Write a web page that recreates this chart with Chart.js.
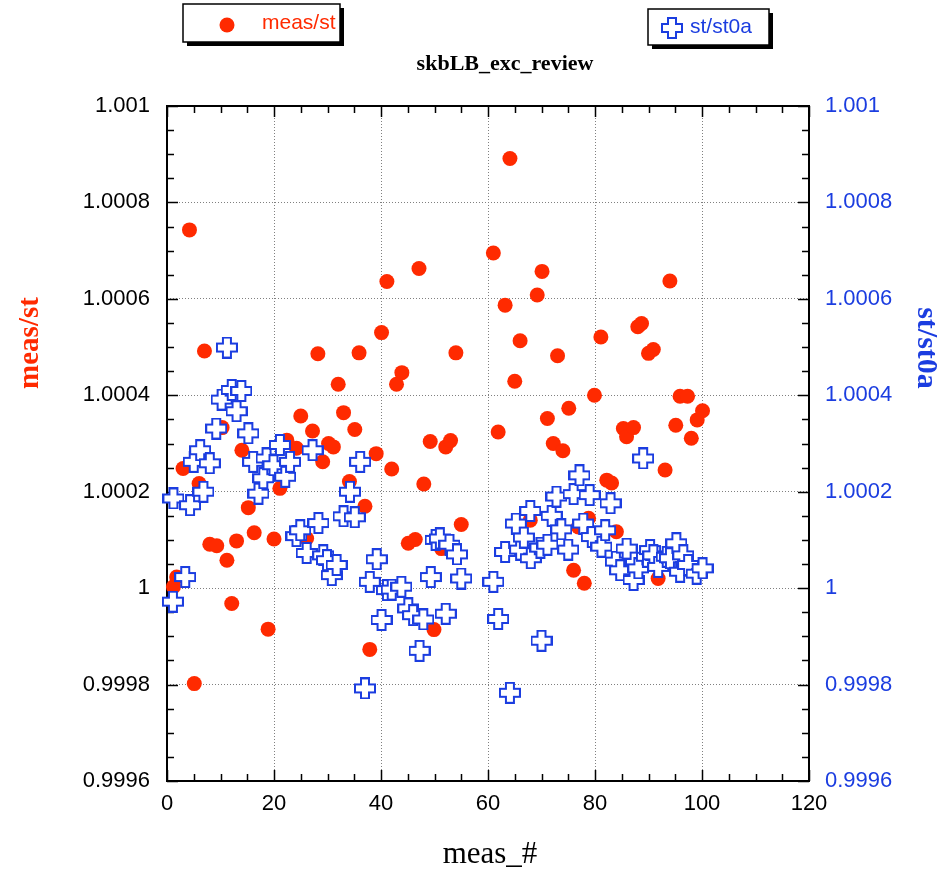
<!DOCTYPE html>
<html>
<head>
<meta charset="utf-8">
<script src="https://cdn.jsdelivr.net/npm/chart.js@4.4.1/dist/chart.umd.min.js"></script>
<style>
  html, body { margin: 0; padding: 0; background: #fff; }
</style>
</head>
<body>
<canvas id="chart" width="947" height="870"></canvas>
<script>
// meas/st (red dots)
const measX = [1.2, 1.8, 3.0, 4.2, 5.1, 6.0, 7.0, 8.0, 9.3, 10.3, 11.2, 12.1, 13.0, 14.0, 15.2, 16.3,
  18.9, 20.0, 21.1, 22.4, 24.2, 25.0, 26.1, 27.2, 28.2, 29.1, 30.2, 31.1, 32.0, 33.0, 34.1, 35.1,
  35.9, 37.0, 37.9, 39.1, 40.1, 41.1, 42.0, 42.9, 43.9, 45.1, 46.4, 47.1, 48.0, 49.2, 49.9, 51.3,
  52.1, 53.0, 54.0, 55.0, 61.0, 61.9, 63.2, 64.1, 65.0, 66.0, 67.0, 67.9, 69.2, 70.1, 71.1, 72.2,
  73.0, 74.0, 75.1, 76.0, 76.9, 78.0, 78.8, 79.9, 81.1, 82.2, 83.1, 84.0, 85.3, 85.9, 87.2, 88.0,
  88.7, 90.0, 90.9, 91.8, 93.1, 94.0, 95.1, 95.9, 97.3, 98.0, 99.1, 100.1];
const measY = [1.000003, 1.000023, 1.000248, 1.000743, 0.999802, 1.000217, 1.000492, 1.000091, 1.000088, 1.000333, 1.000058, 0.999968, 1.000098, 1.000286, 1.000167, 1.000115,
  0.999915, 1.000102, 1.000207, 1.000307, 1.000290, 1.000357, 1.000103, 1.000326, 1.000486, 1.000262, 1.000300, 1.000293, 1.000423, 1.000364, 1.000221, 1.000329,
  1.000488, 1.000170, 0.999873, 1.000279, 1.000530, 1.000636, 1.000247, 1.000423, 1.000447, 1.000093, 1.000101, 1.000663, 1.000216, 1.000304, 0.999914, 1.000082,
  1.000293, 1.000306, 1.000488, 1.000132, 1.000695, 1.000324, 1.000587, 1.000891, 1.000429, 1.000513, 1.000068, 1.000141, 1.000608, 1.000657, 1.000352, 1.000300,
  1.000482, 1.000285, 1.000373, 1.000037, 1.000127, 1.000010, 1.000145, 1.000400, 1.000521, 1.000224, 1.000218, 1.000117, 1.000331, 1.000314, 1.000333, 1.000542,
  1.000549, 1.000487, 1.000495, 1.000020, 1.000245, 1.000637, 1.000338, 1.000398, 1.000398, 1.000311, 1.000349, 1.000368];

// st/st0a (blue crosses)
const st0aX = [1.1, 1.2, 3.4, 4.3, 5.0, 6.2, 6.8, 8.0, 9.2, 10.2, 11.2, 12.1, 13.0, 13.9, 15.2, 16.1,
  17.1, 18.0, 18.6, 19.9, 21.1, 22.1, 23.0, 24.2, 24.9, 26.1, 27.2, 28.3, 29.2, 29.9, 30.8, 31.7,
  33.0, 34.2, 35.1, 36.1, 37.0, 37.9, 39.2, 40.1, 41.1, 42.0, 43.8, 45.1, 46.0, 47.2, 47.9, 49.3,
  50.2, 51.0, 52.1, 52.8, 54.2, 55.0, 61.0, 61.9, 63.2, 64.1, 65.2, 66.0, 66.7, 67.9, 68.0, 69.8,
  70.0, 71.1, 71.9, 72.8, 73.7, 75.0, 76.0, 77.1, 77.8, 79.0, 79.4, 81.2, 81.9, 82.9, 83.9, 84.7,
  85.9, 87.2, 88.1, 89.0, 89.7, 90.3, 90.9, 91.8, 93.4, 94.0, 95.2, 95.9, 96.5, 97.4, 99.0, 100.1];
const st0aY = [0.999972, 1.000186, 1.000023, 1.000172, 1.000262, 1.000286, 1.000200, 1.000259, 1.000331, 1.000391, 1.000499, 1.000411, 1.000367, 1.000409, 1.000321, 1.000262,
  1.000196, 1.000228, 1.000269, 1.000255, 1.000297, 1.000231, 1.000262, 1.000108, 1.000120, 1.000073, 1.000286, 1.000135, 1.000068, 1.000058, 1.000027, 1.000048,
  1.000149, 1.000200, 1.000147, 1.000262, 0.999792, 1.000013, 1.000060, 0.999934, 0.999996, 0.999997, 1.000003, 0.999958, 0.999944, 0.999870, 0.999935, 1.000023,
  1.000100, 1.000103, 0.999947, 1.000090, 1.000070, 1.000020, 1.000013, 0.999936, 1.000075, 0.999783, 1.000134, 1.000080, 1.000105, 1.000160, 1.000062, 1.000084,
  0.999891, 1.000090, 1.000150, 1.000190, 1.000122, 1.000080, 1.000195, 1.000234, 1.000134, 1.000193, 1.000106, 1.000086, 1.000120, 1.000176, 1.000055, 1.000037,
  1.000082, 1.000017, 1.000041, 1.000269, 1.000065, 1.000079, 1.000068, 1.000044, 1.000065, 1.000062, 1.000093, 1.000034, 1.000068, 1.000048, 1.000030, 1.000041];

const xTicks = [0, 20, 40, 60, 80, 100, 120];
const yTicks = [0.9996, 0.9998, 1, 1.0002, 1.0004, 1.0006, 1.0008, 1.001];

const RED = '#ff2a00';
const BLUE = '#1b3de0';

// outlined plus marker
function plusMarker(size, arm, color) {
  const c = document.createElement('canvas');
  c.width = size; c.height = size;
  const g = c.getContext('2d');
  const a = (size - arm) / 2, b = a + arm, lo = 1, hi = size - 1;
  g.beginPath();
  g.moveTo(a, lo); g.lineTo(b, lo); g.lineTo(b, a); g.lineTo(hi, a); g.lineTo(hi, b); g.lineTo(b, b);
  g.lineTo(b, hi); g.lineTo(a, hi); g.lineTo(a, b); g.lineTo(lo, b); g.lineTo(lo, a); g.lineTo(a, a);
  g.closePath();
  g.fillStyle = '#fff';
  g.fill();
  g.lineWidth = 2;
  g.strokeStyle = color;
  g.stroke();
  return c;
}
const plus = plusMarker(22, 8, BLUE);

const fmt = v => String(Number(Number(v).toFixed(4)));

// frame with inward ticks on all four sides
const framePlugin = {
  id: 'frame',
  beforeDatasetsDraw(chart) {
    const { ctx, chartArea: a, scales } = chart;
    const x = scales.x, y = scales.y;
    ctx.save();
    ctx.strokeStyle = '#000';
    ctx.lineWidth = 1.5;
    ctx.beginPath();
    for (let v = 0; v <= 120; v += 5) {
      const px = Math.round(x.getPixelForValue(v)) + 0.5;
      const len = v % 20 === 0 ? 11 : 7;
      ctx.moveTo(px, a.bottom); ctx.lineTo(px, a.bottom - len);
      ctx.moveTo(px, a.top); ctx.lineTo(px, a.top + len);
    }
    for (let i = 0; i <= 28; i++) {
      const v = 0.9996 + i * 0.00005;
      const py = Math.round(y.getPixelForValue(v)) + 0.5;
      const len = i % 4 === 0 ? 11 : 7;
      ctx.moveTo(a.left, py); ctx.lineTo(a.left + len, py);
      ctx.moveTo(a.right, py); ctx.lineTo(a.right - len, py);
    }
    ctx.stroke();
    ctx.lineWidth = 2;
    ctx.strokeRect(a.left, a.top, a.right - a.left, a.bottom - a.top);
    ctx.restore();
  },
  afterDraw(chart) {
    const ctx = chart.ctx;
    ctx.save();
    // title
    ctx.fillStyle = '#000';
    ctx.font = 'bold 22px "Liberation Serif"';
    ctx.textAlign = 'center';
    ctx.textBaseline = 'middle';
    ctx.fillText('skbLB_exc_review', 505, 64);
    // x title
    ctx.font = '31px "Liberation Serif"';
    ctx.fillText('meas_#', 490, 855);
    // left y title
    ctx.save();
    ctx.translate(31, 343);
    ctx.rotate(-Math.PI / 2);
    ctx.fillStyle = RED;
    ctx.font = 'bold 29px "Liberation Serif"';
    ctx.fillText('meas/st', 0, 0);
    ctx.restore();
    // right y title
    ctx.save();
    ctx.translate(926, 348);
    ctx.rotate(Math.PI / 2);
    ctx.fillStyle = BLUE;
    ctx.font = 'bold 30px "Liberation Serif"';
    ctx.fillText('st/st0a', 0, 0);
    ctx.restore();

    // legend boxes
    const box = (x, y, w, h) => {
      ctx.fillStyle = '#000';
      ctx.fillRect(x + 4, y + 4, w, h);
      ctx.fillStyle = '#fff';
      ctx.fillRect(x, y, w, h);
      ctx.strokeStyle = '#000';
      ctx.lineWidth = 1.5;
      ctx.strokeRect(x, y, w, h);
    };
    box(183, 4, 157, 38);
    ctx.fillStyle = RED;
    ctx.beginPath();
    ctx.arc(227, 25, 7.5, 0, Math.PI * 2);
    ctx.fill();
    ctx.font = '21px "Liberation Sans"';
    ctx.textAlign = 'left';
    ctx.fillText('meas/st', 262, 23);

    box(648, 9, 121, 36);
    ctx.drawImage(plus, 672 - 11, 28 - 11);
    ctx.fillStyle = BLUE;
    ctx.fillText('st/st0a', 690, 27);
    ctx.restore();
  }
};

const tickFont = { family: 'Liberation Sans', size: 22 };

new Chart(document.getElementById('chart'), {
  type: 'scatter',
  data: {
    datasets: [
      {
        label: 'meas/st',
        data: measX.map((x, i) => ({ x: x, y: measY[i] })),
        yAxisID: 'y',
        pointStyle: 'circle',
        pointRadius: 7.5,
        pointBorderWidth: 0,
        backgroundColor: RED,
        borderColor: RED,
        clip: false,
        order: 1
      },
      {
        label: 'st/st0a',
        data: st0aX.map((x, i) => ({ x: x, y: st0aY[i] })),
        yAxisID: 'y2',
        pointStyle: plus,
        pointRadius: 11,
        clip: false,
        order: 0
      }
    ]
  },
  options: {
    responsive: false,
    animation: false,
    devicePixelRatio: 1,
    layout: { padding: { top: 106, left: 0, right: 0, bottom: 0 } },
    plugins: { legend: { display: false }, tooltip: { enabled: false } },
    scales: {
      x: {
        type: 'linear',
        min: 0, max: 120,
        afterBuildTicks: s => { s.ticks = xTicks.map(v => ({ value: v })); },
        afterFit: s => { s.height = 89; },
        grid: { color: '#808080', lineWidth: 1, drawTicks: false },
        border: { display: false, dash: [1, 2] },
        ticks: { color: '#000', font: tickFont, padding: 10, maxRotation: 0 }
      },
      y: {
        type: 'linear',
        position: 'left',
        min: 0.9996, max: 1.001,
        afterBuildTicks: s => { s.ticks = yTicks.map(v => ({ value: v })); },
        afterFit: s => { s.width = 167; },
        grid: { color: '#808080', lineWidth: 1, drawTicks: false },
        border: { display: false, dash: [1, 2] },
        ticks: { color: '#000', font: tickFont, padding: 17, callback: fmt }
      },
      y2: {
        type: 'linear',
        position: 'right',
        min: 0.9996, max: 1.001,
        afterBuildTicks: s => { s.ticks = yTicks.map(v => ({ value: v })); },
        afterFit: s => { s.width = 138; },
        grid: { display: false, drawTicks: false },
        border: { display: false },
        ticks: { color: BLUE, font: tickFont, padding: 16, callback: fmt }
      }
    }
  },
  plugins: [framePlugin]
});
</script>
</body>
</html>
